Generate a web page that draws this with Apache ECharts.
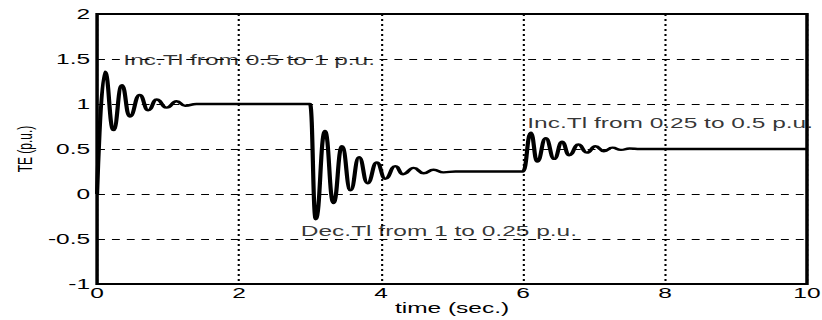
<!DOCTYPE html>
<html>
<head>
<meta charset="utf-8">
<script src="https://cdn.jsdelivr.net/npm/echarts@6/dist/echarts.min.js"></script>
<style>
  html, body { margin: 0; padding: 0; background: #fff; overflow: hidden; }
  /* the scanned figure is stretched sideways, so the chart is too */
  #chart { width: 470px; height: 320px; transform: scaleX(1.749); transform-origin: 0 0; }
</style>
</head>
<body>
<div id="chart"></div>
<script>
// time (s) and TE (p.u.): extrema and flat parts
const times = [
  0, 0.11, 0.23, 0.35, 0.46, 0.60, 0.72, 0.84, 0.98, 1.12, 1.24, 1.40, 3.0,
  3.08, 3.21, 3.33, 3.45, 3.57, 3.69, 3.81, 3.94, 4.06, 4.20, 4.31, 4.46, 4.60, 4.74, 4.88, 5.05, 6.0,
  6.11, 6.20, 6.32, 6.44, 6.55, 6.65, 6.78, 6.90, 7.02, 7.14, 7.26, 7.38, 7.50, 7.65, 10
];
const te = [
  0, 1.36, 0.71, 1.21, 0.86, 1.10, 0.93, 1.05, 0.96, 1.03, 0.98, 1.0, 1.0,
  -0.28, 0.70, -0.10, 0.53, 0.04, 0.41, 0.12, 0.35, 0.17, 0.31, 0.22, 0.29, 0.23, 0.27, 0.24, 0.25, 0.25,
  0.68, 0.36, 0.62, 0.39, 0.58, 0.43, 0.55, 0.46, 0.53, 0.475, 0.515, 0.49, 0.505, 0.5, 0.5
];

const xTicks = [0, 2, 4, 6, 8, 10];
const yTicks = [-1, -0.5, 0, 0.5, 1, 1.5, 2];

// load-change notes: text and where it starts (data coords)
const noteText = ['Inc.Tl from 0.5 to 1 p.u.', 'Dec.Tl from 1 to 0.25 p.u.', 'Inc.Tl from 0.25 to 0.5 p.u.'];
const noteT = [0.37, 2.87, 6.06];
const noteV = [1.49, -0.41, 0.79];

const chart = echarts.init(document.getElementById('chart'), null, { renderer: 'svg' });

const font = 'Liberation Sans, Arial, sans-serif';

const option = {
  animation: false,
  backgroundColor: '#fff',
  grid: {
    left: 55.5,
    right: 8.6,
    top: 14,
    bottom: 36,
    outerBoundsMode: 'none',
    show: true,
    borderColor: '#000',
    borderWidth: 2,
    backgroundColor: 'transparent'
  },
  xAxis: {
    type: 'value',
    min: xTicks[0],
    max: xTicks[xTicks.length - 1],
    interval: xTicks[1] - xTicks[0],
    name: 'time (sec.)',
    nameLocation: 'middle',
    nameGap: 17,
    nameMoveOverlap: false,
    nameTextStyle: { color: '#000', fontSize: 14, fontFamily: font },
    axisLine: { show: false },
    axisTick: { show: false },
    axisLabel: { color: '#000', fontSize: 14, fontFamily: font, margin: 2 },
    splitLine: { show: true, lineStyle: { color: '#000', width: 1.2, type: [2, 3] } }
  },
  yAxis: {
    type: 'value',
    min: yTicks[0],
    max: yTicks[yTicks.length - 1],
    interval: yTicks[1] - yTicks[0],
    name: 'TE (p.u.)',
    nameLocation: 'middle',
    nameGap: 35,
    nameMoveOverlap: false,
    nameTextStyle: { color: '#000', fontSize: 12, fontFamily: font },
    axisLine: { show: false },
    axisTick: { show: false },
    axisLabel: { color: '#000', fontSize: 14, fontFamily: font, margin: 4 },
    splitLine: { show: true, lineStyle: { color: '#000', width: 1, type: [4.5, 4] } }
  },
  series: [
    {
      type: 'line',
      data: times.map((t, i) => [t, te[i]]),
      showSymbol: false,
      smooth: 0.5,
      smoothMonotone: 'x',
      lineStyle: { color: '#000', width: 2.4 },
      z: 3
    },
    {
      type: 'scatter',
      data: noteT.map((t, i) => [t, noteV[i]]),
      symbolSize: 0,
      silent: true,
      label: {
        show: true,
        position: 'right',
        distance: 0,
        color: '#000',
        fontSize: 14,
        fontFamily: font,
        formatter: (p) => noteText[p.dataIndex]
      },
      z: 4
    }
  ]
};

chart.setOption(option);
</script>
</body>
</html>
